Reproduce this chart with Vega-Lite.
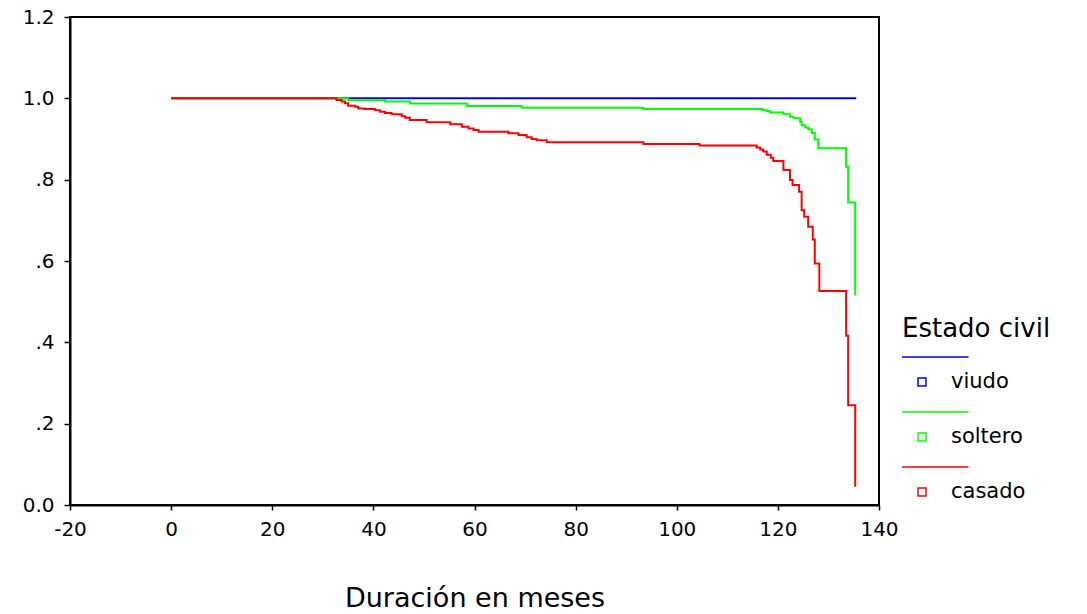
{
  "$schema": "https://vega.github.io/schema/vega-lite/v6.json",
  "width": 809,
  "height": 488,
  "autosize": {"type": "none"},
  "padding": {"left": 70, "top": 17, "right": 208, "bottom": 109},
  "background": "white",
  "config": {
    "font": "DejaVu Sans",
    "view": {"stroke": "black", "strokeWidth": 2},
    "axis": {
      "domainColor": "black",
      "domainWidth": 2,
      "tickColor": "black",
      "tickWidth": 1.5,
      "labelColor": "black",
      "labelFontSize": 20,
      "grid": false,
      "titleColor": "black",
      "titleFontWeight": "normal"
    }
  },
  "data": {
    "values": [
      {"estado": "viudo", "t": 0, "s": 1},
      {"estado": "viudo", "t": 135.5, "s": 1},
      {"estado": "soltero", "t": 0, "s": 1},
      {"estado": "soltero", "t": 35.0, "s": 0.995},
      {"estado": "soltero", "t": 42.3, "s": 0.992},
      {"estado": "soltero", "t": 47.2, "s": 0.987},
      {"estado": "soltero", "t": 58.5, "s": 0.981},
      {"estado": "soltero", "t": 69.3, "s": 0.977},
      {"estado": "soltero", "t": 93.4, "s": 0.974},
      {"estado": "soltero", "t": 116.9, "s": 0.971},
      {"estado": "soltero", "t": 117.8, "s": 0.969},
      {"estado": "soltero", "t": 118.4, "s": 0.965},
      {"estado": "soltero", "t": 121.1, "s": 0.961},
      {"estado": "soltero", "t": 122.4, "s": 0.955},
      {"estado": "soltero", "t": 123.1, "s": 0.951},
      {"estado": "soltero", "t": 124.4, "s": 0.942},
      {"estado": "soltero", "t": 124.7, "s": 0.934},
      {"estado": "soltero", "t": 125.4, "s": 0.928},
      {"estado": "soltero", "t": 126.0, "s": 0.924},
      {"estado": "soltero", "t": 126.7, "s": 0.915},
      {"estado": "soltero", "t": 127.3, "s": 0.899},
      {"estado": "soltero", "t": 128.0, "s": 0.877},
      {"estado": "soltero", "t": 133.5, "s": 0.832},
      {"estado": "soltero", "t": 133.9, "s": 0.744},
      {"estado": "soltero", "t": 135.3, "s": 0.515},
      {"estado": "casado", "t": 0, "s": 1},
      {"estado": "casado", "t": 32.7, "s": 0.996},
      {"estado": "casado", "t": 33.7, "s": 0.992},
      {"estado": "casado", "t": 34.4, "s": 0.988},
      {"estado": "casado", "t": 35.0, "s": 0.982},
      {"estado": "casado", "t": 36.4, "s": 0.979},
      {"estado": "casado", "t": 37.0, "s": 0.975},
      {"estado": "casado", "t": 38.3, "s": 0.974},
      {"estado": "casado", "t": 40.3, "s": 0.971},
      {"estado": "casado", "t": 41.3, "s": 0.967},
      {"estado": "casado", "t": 42.3, "s": 0.964},
      {"estado": "casado", "t": 43.6, "s": 0.961},
      {"estado": "casado", "t": 45.6, "s": 0.956},
      {"estado": "casado", "t": 46.3, "s": 0.952},
      {"estado": "casado", "t": 47.2, "s": 0.947},
      {"estado": "casado", "t": 50.5, "s": 0.941},
      {"estado": "casado", "t": 55.2, "s": 0.936},
      {"estado": "casado", "t": 57.5, "s": 0.930},
      {"estado": "casado", "t": 58.8, "s": 0.926},
      {"estado": "casado", "t": 59.8, "s": 0.922},
      {"estado": "casado", "t": 60.8, "s": 0.918},
      {"estado": "casado", "t": 66.7, "s": 0.914},
      {"estado": "casado", "t": 68.7, "s": 0.910},
      {"estado": "casado", "t": 70.3, "s": 0.904},
      {"estado": "casado", "t": 71.3, "s": 0.900},
      {"estado": "casado", "t": 72.3, "s": 0.897},
      {"estado": "casado", "t": 74.3, "s": 0.892},
      {"estado": "casado", "t": 93.4, "s": 0.888},
      {"estado": "casado", "t": 104.5, "s": 0.884},
      {"estado": "casado", "t": 115.8, "s": 0.879},
      {"estado": "casado", "t": 116.5, "s": 0.874},
      {"estado": "casado", "t": 117.1, "s": 0.869},
      {"estado": "casado", "t": 117.8, "s": 0.861},
      {"estado": "casado", "t": 118.6, "s": 0.854},
      {"estado": "casado", "t": 119.1, "s": 0.846},
      {"estado": "casado", "t": 121.1, "s": 0.824},
      {"estado": "casado", "t": 122.4, "s": 0.799},
      {"estado": "casado", "t": 122.9, "s": 0.787},
      {"estado": "casado", "t": 124.2, "s": 0.770},
      {"estado": "casado", "t": 124.7, "s": 0.725},
      {"estado": "casado", "t": 125.2, "s": 0.709},
      {"estado": "casado", "t": 126.0, "s": 0.684},
      {"estado": "casado", "t": 126.9, "s": 0.653},
      {"estado": "casado", "t": 127.3, "s": 0.594},
      {"estado": "casado", "t": 128.2, "s": 0.526},
      {"estado": "casado", "t": 133.5, "s": 0.416},
      {"estado": "casado", "t": 133.9, "s": 0.245},
      {"estado": "casado", "t": 135.3, "s": 0.045}
    ]
  },
  "encoding": {
    "x": {
      "field": "t",
      "type": "quantitative",
      "scale": {"domain": [-20, 140], "nice": false, "zero": false},
      "axis": {
        "values": [-20, 0, 20, 40, 60, 80, 100, 120, 140],
        "title": "Duración en meses",
        "titleFontSize": 27,
        "titleBaseline": "alphabetic",
        "titleY": 101,
        "tickSize": 5,
        "labelPadding": 9,
        "labelFlush": false,
        "labelOverlap": false,
        "labelExpr": "datum.value < 0 ? '-' + abs(datum.value) : '' + datum.value"
      }
    },
    "y": {
      "field": "s",
      "type": "quantitative",
      "scale": {"domain": [0, 1.2], "nice": false},
      "axis": {
        "values": [0, 0.2, 0.4, 0.6, 0.8, 1.0, 1.2],
        "title": null,
        "tickSize": 6,
        "labelPadding": 10,
        "labelFlush": false,
        "labelOverlap": false,
        "labelExpr": "datum.value == 0 ? '0.0' : (datum.value >= 1 ? format(datum.value, '.1f') : replace(format(datum.value, '.1f'), '0.', '.'))"
      }
    },
    "color": {
      "field": "estado",
      "type": "nominal",
      "scale": {"domain": ["viudo", "soltero", "casado"], "range": ["#0000ff", "#00ff00", "#ff0000"]},
      "legend": {
        "title": "Estado civil",
        "orient": "none",
        "legendX": 832,
        "legendY": 299,
        "padding": 0,
        "titleFontSize": 26,
        "titleFontWeight": "normal",
        "titleColor": "black",
        "titlePadding": 20,
        "labelFontSize": 21,
        "labelColor": "black",
        "labelOffset": 9,
        "rowPadding": 16,
        "symbolType": "M-1.05,-1.32H2.45M-0.21,-0.21H0.21V0.21H-0.21Z",
        "symbolSize": 1444,
        "symbolStrokeWidth": 1.5,
        "symbolFillColor": "transparent",
        "encode": {"symbols": {"update": {"fill": {"value": "transparent"}}}}
      }
    }
  },
  "layer": [
    {"transform": [{"filter": "datum.estado === 'viudo'"}], "mark": {"type": "line", "interpolate": "step-after", "strokeWidth": 2}},
    {"transform": [{"filter": "datum.estado === 'soltero'"}], "mark": {"type": "line", "interpolate": "step-after", "strokeWidth": 2}},
    {"transform": [{"filter": "datum.estado === 'casado'"}], "mark": {"type": "line", "interpolate": "step-after", "strokeWidth": 2}}
  ]
}
